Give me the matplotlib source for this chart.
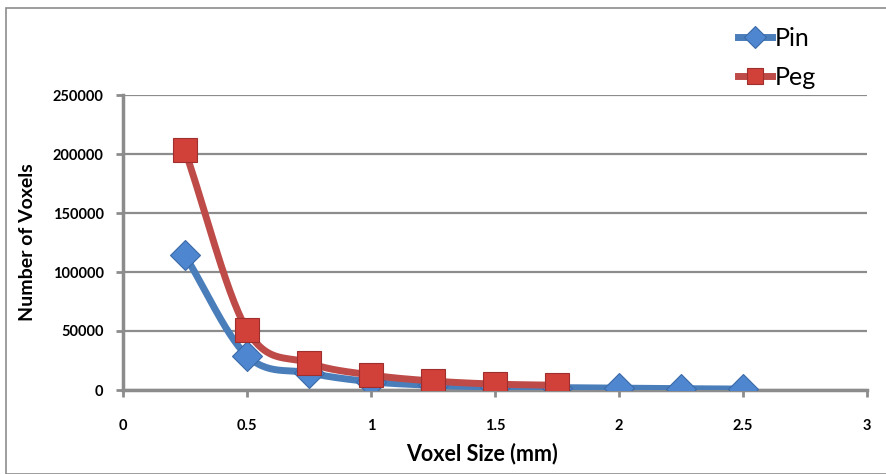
import numpy as np
import matplotlib
matplotlib.use("Agg")
import matplotlib.pyplot as plt

plt.rcParams['font.family'] = ['Lato', 'DejaVu Sans']

voxel_pin = [0.25, 0.5, 0.75, 1.0, 1.25, 1.5, 1.75, 2.0, 2.25, 2.5]
count_pin = [114000, 29000, 14500, 7000, 4000, 2600, 2000, 1500, 1100, 800]
voxel_peg = [0.25, 0.5, 0.75, 1.0, 1.25, 1.5, 1.75]
count_peg = [203000, 51000, 23000, 12700, 7600, 5000, 4000]

x_ticks = [0, 0.5, 1, 1.5, 2, 2.5, 3]
x_ticklabels = ['0', '0.5', '1', '1.5', '2', '2.5', '3']
y_ticks = [0, 50000, 100000, 150000, 200000, 250000]


def smooth(x, y, n=30):
    # Catmull-Rom curve through the points, like Excel's smoothed line
    x = np.asarray(x, float)
    y = np.asarray(y, float)
    px = np.concatenate([[2 * x[0] - x[1]], x, [2 * x[-1] - x[-2]]])
    py = np.concatenate([[2 * y[0] - y[1]], y, [2 * y[-1] - y[-2]]])
    xs, ys = [], []
    t = np.linspace(0, 1, n)
    for i in range(1, len(px) - 2):
        for p, out in ((px, xs), (py, ys)):
            p0, p1, p2, p3 = p[i - 1], p[i], p[i + 1], p[i + 2]
            out.extend(0.5 * (2 * p1 + (-p0 + p2) * t
                              + (2 * p0 - 5 * p1 + 4 * p2 - p3) * t ** 2
                              + (-p0 + 3 * p1 - 3 * p2 + p3) * t ** 3))
    return np.array(xs), np.array(ys)


fig = plt.figure(figsize=(8.87, 4.74), dpi=100)
ax = fig.add_axes([123 / 887, 1 - 390 / 474, 744 / 887, 295 / 474])

# outer chart border
fig.patches.append(plt.Rectangle((6 / 887, 0.0), 1.0, 1 - 8 / 474, transform=fig.transFigure,
                                 fill=False, edgecolor='#8c8c8c', linewidth=1.2))

blue = '#4a7ebb'
red = '#be4b48'
pin_style = dict(marker='D', markerfacecolor='#4f86d0', markeredgecolor='#3a6aa8',
                 markeredgewidth=0.8)
peg_style = dict(marker='s', markerfacecolor='#d2403a', markeredgecolor='#9e2f2c',
                 markeredgewidth=0.8)

sx, sy = smooth(voxel_pin, count_pin)
ax.plot(sx, sy, color=blue, linewidth=5, solid_capstyle='round', zorder=3)
ax.plot(voxel_pin, count_pin, linestyle='none', markersize=15, zorder=4, **pin_style)

sx, sy = smooth(voxel_peg, count_peg)
ax.plot(sx, sy, color=red, linewidth=5, solid_capstyle='round', zorder=5)
ax.plot(voxel_peg, count_peg, linestyle='none', markersize=17, zorder=6, **peg_style)

ax.set_xlim(0, 3)
ax.set_ylim(0, 250000)
ax.set_xticks(x_ticks)
ax.set_xticklabels(x_ticklabels)
ax.set_yticks(y_ticks)
ax.yaxis.grid(True, color='#8c8c8c', linewidth=1.6)
ax.set_axisbelow(True)

for side in ('top', 'right'):
    ax.spines[side].set_visible(False)
for side in ('left', 'bottom'):
    ax.spines[side].set_color('#8c8c8c')
    ax.spines[side].set_linewidth(2.5)
ax.tick_params(axis='both', direction='out', length=5, width=2, color='#8c8c8c',
               labelsize=10.5)
ax.tick_params(axis='x', pad=16)
ax.tick_params(axis='y', pad=9)
for lbl in ax.get_xticklabels() + ax.get_yticklabels():
    lbl.set_fontweight('bold')

ax.set_xlabel('Voxel Size (mm)', fontsize=15.5, fontweight='bold')
ax.xaxis.set_label_coords(0.483, -0.18)
ax.set_ylabel('Number of Voxels', fontsize=14, fontweight='bold', labelpad=12)

# legend entries: line with marker, then label
pin_h = plt.Line2D([], [], color=blue, linewidth=5, markersize=11, **pin_style)
peg_h = plt.Line2D([], [], color=red, linewidth=5, markersize=11, **peg_style)
fig.legend([pin_h, peg_h], ['Pin', 'Peg'], loc='upper left',
           bbox_to_anchor=(716 / 887, 1 - 4 / 474), frameon=False, fontsize=18,
           handlelength=1.35, handletextpad=0.1, labelspacing=0.65)

fig.savefig('out.png', dpi=100)
